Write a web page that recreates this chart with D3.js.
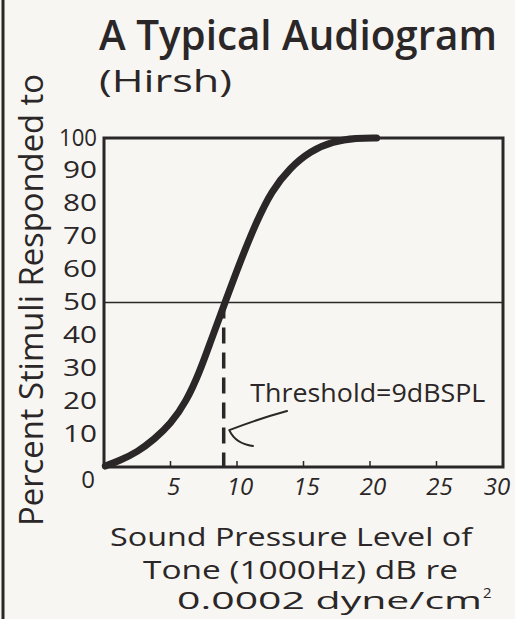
<!DOCTYPE html>
<html>
<head>
<meta charset="utf-8">
<script src="https://cdn.jsdelivr.net/npm/d3@7"></script>
<style>
  html, body { margin: 0; padding: 0; background: #f7f6f2; }
  svg { display: block; }
  text { font-family: "Open Sans", "Noto Sans", sans-serif; fill: #2b2627; }
</style>
</head>
<body>
<svg id="chart" width="515" height="619"></svg>
<script>
// ---- data ----
const curveX = [0.1, 1.2, 2.5, 3.8, 5.0, 6.2, 7.2, 8.0, 9.1, 10.2, 11.4, 12.6, 14.0, 15.5, 17.2, 19.0, 20.5];
const curveY = [0.3, 2, 4.5, 8.5, 13, 20, 29, 38, 50, 62, 74, 84, 91, 96, 99, 100, 100];
const xTicks = [5, 10, 15, 20, 25, 30];
const yTicks = [10, 20, 30, 40, 50, 60, 70, 80, 90, 100];
const thresholdX = 9;
const thresholdY = 50;
const titleText = "A Typical Audiogram";
const subtitleText = "(Hirsh)";
const yTitle = "Percent Stimuli Responded to";
const xTitleLines = ["Sound Pressure Level of", "Tone (1000Hz) dB re", "0.0002 dyne/cm"];
const annotationText = "Threshold=9dBSPL";
// arrow in data units: shaft start, shaft control, tip, wing control, wing end
const arrowPts = [[13.76, 17], [11.5, 14.5], [9.42, 11.2], [9.9, 7], [11.2, 6.4]];

const ink = "#2b2627";
const svg = d3.select("#chart");

const x = d3.scaleLinear().domain([0, 30]).range([104, 503]);
const y = d3.scaleLinear().domain([0, 100]).range([467, 138]);

// left page border
svg.append("line").attr("x1", 3).attr("x2", 3).attr("y1", 0).attr("y2", 619)
  .attr("stroke", ink).attr("stroke-width", 3);

// titles
svg.append("text").attr("x", 99).attr("y", 50).attr("font-size", 42).attr("font-weight", 600)
  .attr("textLength", 398).attr("lengthAdjust", "spacingAndGlyphs").text(titleText);
svg.append("text").attr("x", 99).attr("y", 92).attr("font-size", 31).attr("font-weight", 400)
  .attr("textLength", 133).attr("lengthAdjust", "spacingAndGlyphs").text(subtitleText);

// plot box
svg.append("rect").attr("x", x(0)).attr("y", y(100))
  .attr("width", x(30) - x(0)).attr("height", y(0) - y(100))
  .attr("fill", "none").attr("stroke", ink).attr("stroke-width", 3);

// 50% line
svg.append("line").attr("x1", x(0)).attr("x2", x(30)).attr("y1", y(50)).attr("y2", y(50))
  .attr("stroke", ink).attr("stroke-width", 1.5);

// x ticks (inner)
svg.append("g").selectAll("line").data(xTicks.filter(d => d < 30)).join("line")
  .attr("x1", d => x(d)).attr("x2", d => x(d))
  .attr("y1", y(0)).attr("y2", y(0) - 6)
  .attr("stroke", ink).attr("stroke-width", 1.5);

// x tick labels
svg.append("g").selectAll("text").data(xTicks).join("text")
  .attr("x", d => Math.min(x(d) + 3, 497)).attr("y", y(0) + 18)
  .attr("text-anchor", "middle").attr("dominant-baseline", "central")
  .attr("font-size", 24).attr("font-weight", 400).attr("font-style", "italic")
  .text(d => d);

// y tick labels
svg.append("g").selectAll("text").data(yTicks).join("text")
  .attr("x", 97).attr("y", d => y(d) - 2)
  .attr("text-anchor", "end").attr("dominant-baseline", "central")
  .attr("font-size", 24).attr("font-weight", 400)
  .attr("textLength", d => d === 100 ? 38 : 34).attr("lengthAdjust", "spacingAndGlyphs")
  .text(d => d);
// shared origin label
svg.append("text").attr("x", x(0) - 16).attr("y", y(0) + 11)
  .attr("text-anchor", "middle").attr("dominant-baseline", "central")
  .attr("font-size", 24).attr("font-weight", 400).text("0");

// y title
svg.append("text")
  .attr("transform", `translate(43, 300) rotate(-90)`)
  .attr("text-anchor", "middle").attr("font-size", 32).attr("font-weight", 400)
  .attr("textLength", 452).attr("lengthAdjust", "spacingAndGlyphs")
  .text(yTitle);

// x title
const xt = [
  {x: 110, y: 546, len: 362, fs: 26},
  {x: 143, y: 579, len: 315, fs: 25},
  {x: 177, y: 609, len: 305, fs: 24}
];
xTitleLines.forEach((t, i) => {
  svg.append("text").attr("x", xt[i].x).attr("y", xt[i].y)
    .attr("font-size", xt[i].fs).attr("font-weight", 400)
    .attr("textLength", xt[i].len).attr("lengthAdjust", "spacingAndGlyphs")
    .text(t);
  if (i === 2) {
    svg.append("text").attr("x", xt[i].x + xt[i].len + 1).attr("y", xt[i].y - 11)
      .attr("font-size", 15).attr("font-weight", 400).text("2");
  }
});

// threshold dashed line
svg.append("line").attr("x1", x(thresholdX)).attr("x2", x(thresholdX))
  .attr("y1", y(thresholdY)).attr("y2", y(0))
  .attr("stroke", ink).attr("stroke-width", 3.5).attr("stroke-dasharray", "16,9");

// curve
const pts = curveX.map((d, i) => [d, curveY[i]]);
const line = d3.line().x(d => x(d[0])).y(d => y(d[1])).curve(d3.curveBasis);
svg.append("path").datum(pts).attr("d", line)
  .attr("fill", "none").attr("stroke", ink).attr("stroke-width", 7)
  .attr("stroke-linecap", "round").attr("stroke-linejoin", "round");

// annotation
svg.append("text").attr("x", x(11.0)).attr("y", 402)
  .attr("font-size", 25).attr("font-weight", 400)
  .attr("textLength", 235).attr("lengthAdjust", "spacingAndGlyphs")
  .text(annotationText);

const ap = arrowPts.map(p => [x(p[0]), y(p[1])]);
const arrowPath = d3.path();
arrowPath.moveTo(ap[0][0], ap[0][1]);
arrowPath.quadraticCurveTo(ap[1][0], ap[1][1], ap[2][0], ap[2][1]);
arrowPath.quadraticCurveTo(ap[3][0], ap[3][1], ap[4][0], ap[4][1]);
svg.append("path").attr("d", arrowPath.toString())
  .attr("fill", "none").attr("stroke", ink).attr("stroke-width", 2)
  .attr("stroke-linecap", "round").attr("stroke-linejoin", "round");
</script>
</body>
</html>
